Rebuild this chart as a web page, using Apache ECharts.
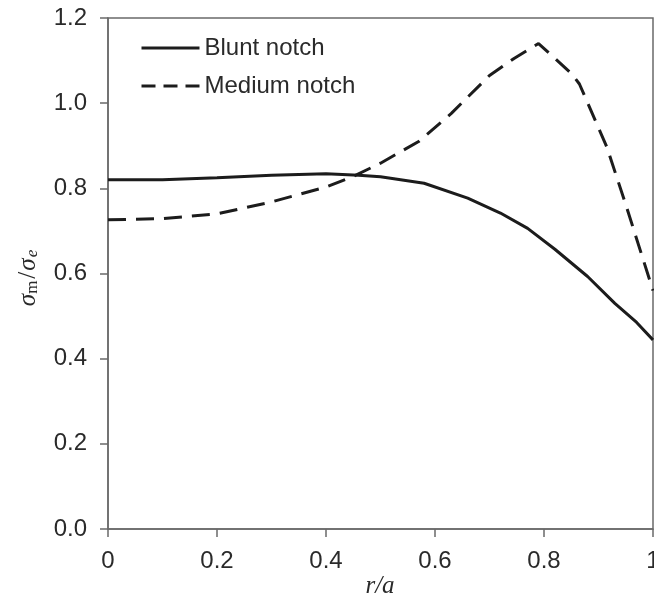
<!DOCTYPE html>
<html>
<head>
<meta charset="utf-8">
<script src="https://cdn.jsdelivr.net/npm/echarts@6/dist/echarts.min.js"></script>
<style>
  html, body { margin: 0; padding: 0; background: #fff; }
  #chart { width: 654px; height: 603px; }
</style>
</head>
<body>
<div id="chart"></div>
<script>
// Normalised radius r/a and stress ratio for the two notch shapes
const seriesNames = ['Blunt notch', 'Medium notch'];

const bluntX = [0, 0.1, 0.2, 0.3, 0.4, 0.46, 0.5, 0.58, 0.66, 0.72, 0.77, 0.82, 0.88, 0.93, 0.97, 1.0];
const bluntY = [0.820, 0.820, 0.825, 0.831, 0.834, 0.831, 0.827, 0.812, 0.777, 0.742, 0.706, 0.657, 0.593, 0.530, 0.485, 0.444];

const mediumX = [0, 0.1, 0.2, 0.3, 0.4, 0.45, 0.5, 0.57, 0.63, 0.7, 0.745, 0.79, 0.85, 0.865, 0.915, 0.95, 1.0];
const mediumY = [0.726, 0.729, 0.740, 0.768, 0.803, 0.828, 0.859, 0.910, 0.976, 1.065, 1.105, 1.140, 1.070, 1.045, 0.898, 0.762, 0.560];

const yTicks = [0, 0.2, 0.4, 0.6, 0.8, 1.0, 1.2];
const xTicks = [0, 0.2, 0.4, 0.6, 0.8, 1];

const pair = (xs, ys) => xs.map((x, i) => [x, ys[i]]);

const sans = '"Liberation Sans", Arial, sans-serif';
const serif = '"Liberation Serif", "Times New Roman", serif';
const axisGray = '#6a6a6a';
const ink = '#1c1c1c';
const textInk = '#2a2a2a';

const chart = echarts.init(document.getElementById('chart'), null, { renderer: 'canvas' });

chart.setOption({
  animation: false,
  backgroundColor: '#fff',
  grid: {
    left: 108, right: 1, top: 18, bottom: 74,
    outerBoundsMode: 'none',
    containLabel: false,
    show: true, borderColor: axisGray, borderWidth: 1.5, backgroundColor: 'transparent'
  },
  legend: {
    orient: 'vertical',
    left: 140, top: 36,
    padding: 0,
    itemWidth: 58, itemHeight: 14, itemGap: 14,
    itemStyle: { opacity: 0 },
    textStyle: { fontFamily: sans, fontSize: 24, color: textInk, lineHeight: 24 },
    data: [
      { name: seriesNames[0], itemStyle: { opacity: 0 }, lineStyle: { type: 'solid', width: 3 } },
      { name: seriesNames[1], itemStyle: { opacity: 0 }, lineStyle: { type: [14, 8], width: 3 } }
    ]
  },
  xAxis: {
    type: 'value',
    min: xTicks[0], max: xTicks[xTicks.length - 1], interval: 0.2,
    axisLine: { lineStyle: { color: axisGray, width: 1.5 } },
    axisTick: { inside: false, length: 8, lineStyle: { color: axisGray, width: 1.5 } },
    axisLabel: { margin: 20, fontFamily: sans, fontSize: 24, color: textInk,
                 formatter: v => String(+v.toFixed(1)) },
    splitLine: { show: false }
  },
  yAxis: {
    type: 'value',
    min: yTicks[0], max: yTicks[yTicks.length - 1], interval: 0.2,
    axisLine: { lineStyle: { color: axisGray, width: 1.5 } },
    axisTick: { inside: false, length: 8, lineStyle: { color: axisGray, width: 1.5 } },
    axisLabel: { margin: 21, fontFamily: sans, fontSize: 24, color: textInk,
                 formatter: v => v.toFixed(1) },
    splitLine: { show: false }
  },
  graphic: [
    {
      type: 'text',
      x: 380, y: 586,
      style: {
        text: 'r/a',
        font: 'italic 25px ' + serif,
        fill: textInk,
        align: 'center', verticalAlign: 'middle'
      }
    },
    {
      type: 'text',
      x: 28, y: 278,
      rotation: Math.PI / 2,
      style: {
        text: '{s|σ}{m|m}{sl|/}{s|σ}{e|e}',
        align: 'center', verticalAlign: 'middle',
        fill: textInk,
        rich: {
          s: { font: 'italic 25px ' + serif, fill: textInk },
          sl: { font: '25px ' + serif, fill: textInk, padding: [0, 1, 0, 1] },
          m: { font: '17px ' + serif, fill: textInk, padding: [10, 1, 0, 0] },
          e: { font: 'italic 17px ' + serif, fill: textInk, padding: [10, 0, 0, 1] }
        }
      }
    }
  ],
  series: [
    {
      name: seriesNames[0],
      type: 'line',
      data: pair(bluntX, bluntY),
      symbol: 'none',
      smooth: false,
      lineStyle: { color: ink, width: 3, type: 'solid' },
      itemStyle: { color: ink }
    },
    {
      name: seriesNames[1],
      type: 'line',
      data: pair(mediumX, mediumY),
      symbol: 'none',
      smooth: false,
      lineStyle: { color: ink, width: 3, type: [18, 10] },
      itemStyle: { color: ink }
    }
  ]
});
</script>
</body>
</html>
